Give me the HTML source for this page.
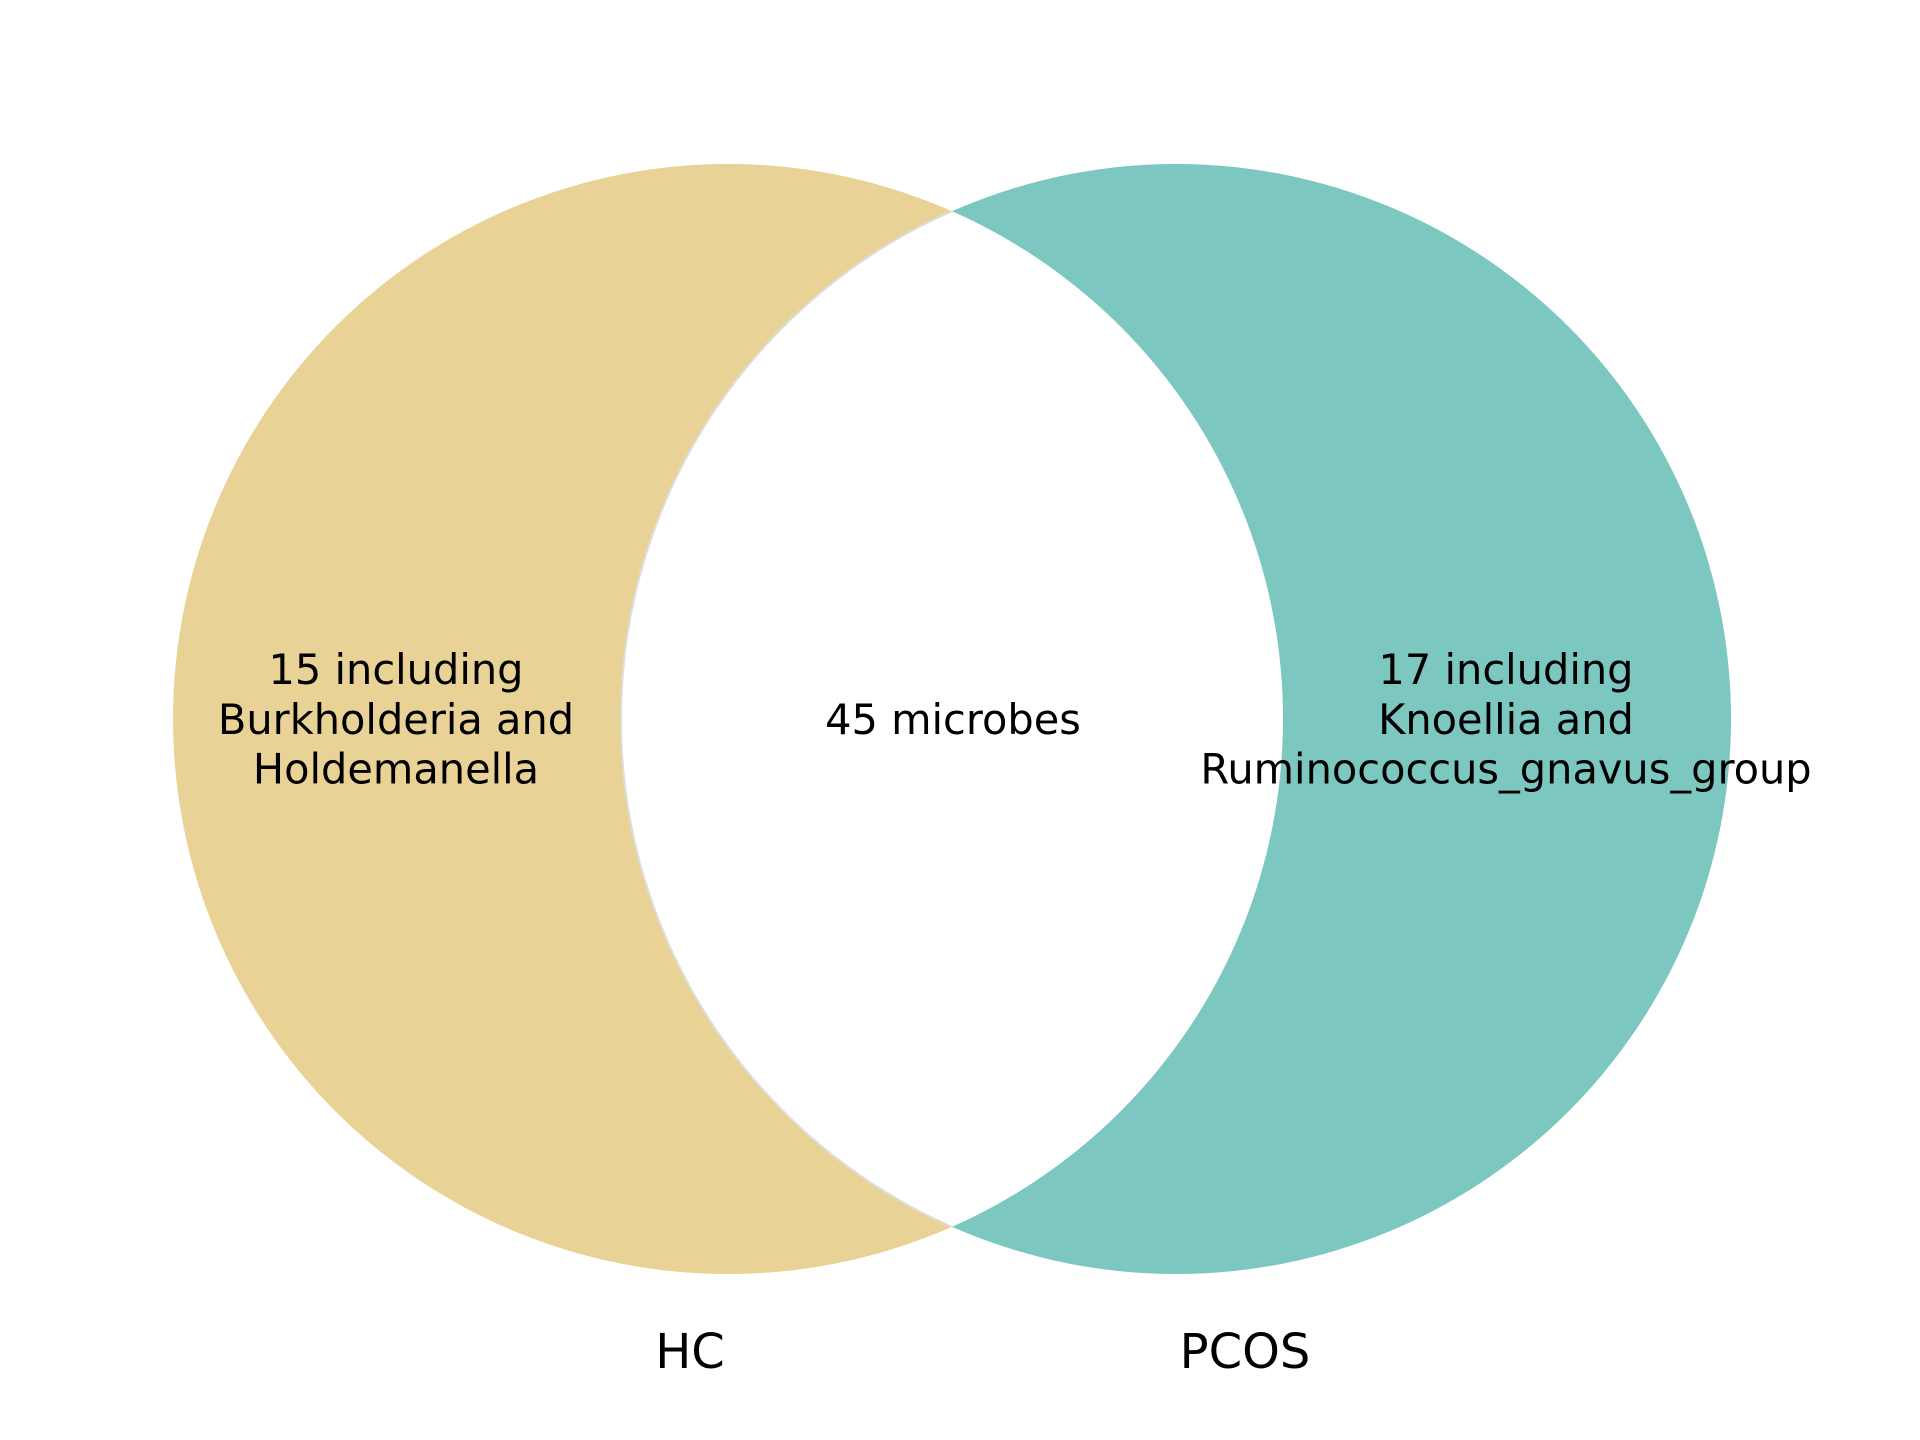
<!DOCTYPE html>
<html><head><meta charset="utf-8"><style>
html,body{margin:0;padding:0;background:#fff;}
svg{display:block;}
text{font-family:"DejaVu Sans","Liberation Sans",sans-serif;fill:#000;}
</style></head><body>
<svg id="venn" width="1920" height="1440" viewBox="0 0 1920 1440">
<defs>
<clipPath id="clipL"><circle cx="728" cy="719" r="555"/></clipPath>
</defs>
<g id="marks"></g>
<g id="labels"></g>
</svg>
<script>
const setNames = ["HC", "PCOS"];
const setColors = ["#e9d295", "#7dc7c1"];
const onlyCounts = [15, 17];
const onlyExamples = [["Burkholderia", "Holdemanella"], ["Knoellia", "Ruminococcus_gnavus_group"]];
const sharedCount = [45];

const NS = "http://www.w3.org/2000/svg";
const marks = document.getElementById('marks');
const labels = document.getElementById('labels');
const cy = 719, r = 555;
const cxs = [728, 1176];

function mk(tag, attrs, parent) {
  const e = document.createElementNS(NS, tag);
  for (const k in attrs) e.setAttribute(k, attrs[k]);
  parent.appendChild(e);
  return e;
}
setNames.forEach((n, i) => {
  const c = mk('circle', {cx: cxs[i], cy: cy, r: r, fill: setColors[i], stroke: 'none'}, marks);
  
  
});
const inter = mk('circle', {cx: cxs[1], cy: cy, r: r, fill: '#ffffff', 'clip-path': 'url(#clipL)', stroke: '#dddddd', 'stroke-width': 2}, marks);



function multiText(lines, x, yc, size, name) {
  const lh = size * 1.2;
  const t = mk('text', {x: x, 'font-size': size, 'text-anchor': 'middle'}, labels);
  
  
  const y0 = yc - (lines.length - 1) * lh / 2 + size * 0.36;
  lines.forEach((l, k) => {
    const s = mk('tspan', {x: x, y: y0 + k * lh}, t);
    s.textContent = l;
  });
}
const regionX = [396, 1506];
multiText([onlyCounts[0] + " including", onlyExamples[0][0] + " and", onlyExamples[0][1]], regionX[0], cy, 41.5, 'hc-only-label');
multiText([onlyCounts[1] + " including", onlyExamples[1][0] + " and", onlyExamples[1][1]], regionX[1], cy, 41.5, 'pcos-only-label');
multiText([sharedCount[0] + " microbes"], 953, cy, 41.5, 'shared-label');
const setLabelX = [690, 1245];
setNames.forEach((n, i) => {
  const t = mk('text', {x: setLabelX[i], y: 1368, 'font-size': 48, 'text-anchor': 'middle'}, labels);
  
  
  t.textContent = n;
});
</script>
</body></html>
